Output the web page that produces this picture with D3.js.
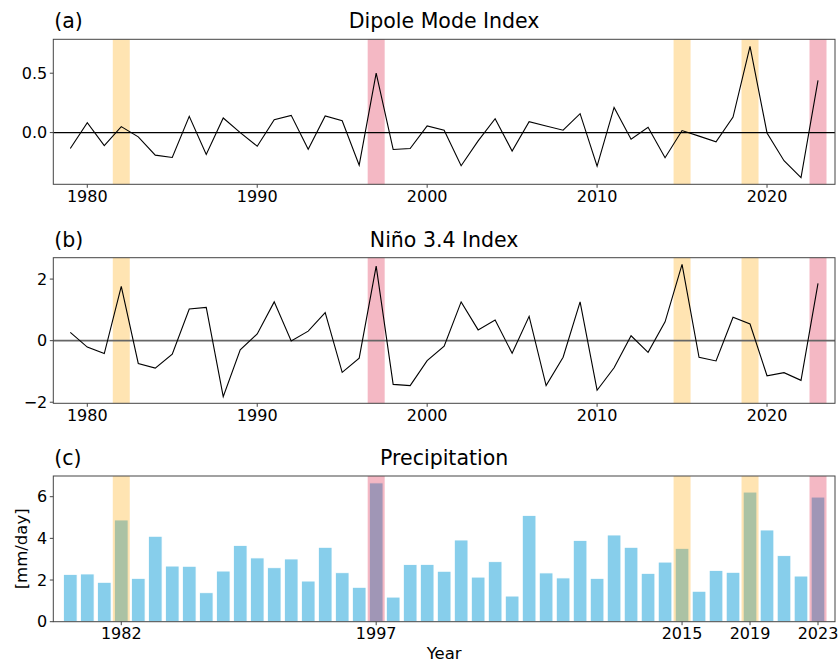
<!DOCTYPE html>
<html>
<head>
<meta charset="utf-8">
<script src="https://cdn.jsdelivr.net/npm/d3@7"></script>
<style>
  body { margin: 0; background: #fff; }
  #canvas { width: 839px; height: 663px; }
  text { font-family: "DejaVu Sans", sans-serif; fill: #000; }
</style>
</head>
<body>
<div id="canvas"></div>
<script>
let years = d3.range(1979, 2024);

let dmi = [
  -0.134, 0.084, -0.109, 0.05, -0.036, -0.19, -0.21, 0.137, -0.184, 0.123,
  0.0, -0.115, 0.109, 0.145, -0.14, 0.14, 0.1, -0.274, 0.5, -0.142,
  -0.134, 0.056, 0.02, -0.279, -0.07, 0.117, -0.156, 0.092, 0.055, 0.02,
  0.159, -0.282, 0.212, -0.056, 0.045, -0.212, 0.017, -0.03, -0.078, 0.131,
  0.726, -0.003, -0.237, -0.38, 0.439,
];

let nino34 = [
  0.27, -0.21, -0.42, 1.76, -0.74, -0.89, -0.44, 1.03, 1.08, -1.82,
  -0.3, 0.22, 1.26, -0.01, 0.31, 0.91, -1.03, -0.57, 2.42, -1.42,
  -1.46, -0.65, -0.18, 1.26, 0.35, 0.67, -0.41, 0.79, -1.46, -0.54,
  1.26, -1.61, -0.88, 0.16, -0.38, 0.61, 2.48, -0.54, -0.66, 0.76,
  0.54, -1.14, -1.04, -1.29, 1.86,
];

let precip = [
  2.27, 2.29, 1.89, 4.88, 2.08, 4.1, 2.67, 2.66, 1.39, 2.43,
  3.66, 3.06, 2.59, 3.01, 1.95, 3.57, 2.35, 1.65, 6.66, 1.18,
  2.74, 2.75, 2.42, 3.92, 2.14, 2.88, 1.23, 5.1, 2.34, 2.1,
  3.9, 2.08, 4.16, 3.57, 2.32, 2.86, 3.52, 1.46, 2.46, 2.37,
  6.22, 4.4, 3.17, 2.19, 5.98,
];

let orangeYears = [1982, 2015, 2019];
let pinkYears = [1997, 2023];

let lineTicks = [1980, 1990, 2000, 2010, 2020];
let barTicks = [1982, 1997, 2015, 2019, 2023];

let svg = d3
  .select("#canvas")
  .append("svg")
  .attr("width", 839)
  .attr("height", 663);

let left = 53.3,
  right = 835;

let x = d3.scaleLinear().domain([1978, 2024]).range([left, right]);

let panels = [
  { tag: "(a)", title: "Dipole Mode Index", top: 39.3, bottom: 184.3, domain: [-0.4355, 0.7855], yticks: [0, 0.5], fmt: d3.format(".1f") },
  { tag: "(b)", title: "Niño 3.4 Index", top: 257.7, bottom: 403.3, domain: [-2.035, 2.695], yticks: [-2, 0, 2], fmt: (d) => (d < 0 ? "\u2212" + Math.abs(d) : "" + d) },
  { tag: "(c)", title: "Precipitation", top: 476, bottom: 621.7, domain: [0, 6.993], yticks: [0, 2, 4, 6], fmt: (d) => "" + d },
];

let drawSpans = (g, y) => {
  let spans = orangeYears
    .map((yr) => ({ yr: yr, color: "orange" }))
    .concat(pinkYears.map((yr) => ({ yr: yr, color: "crimson" })));
  g.selectAll(".span")
    .data(spans)
    .join("rect")
    .attr("class", "span")
    .attr("x", (d) => x(d.yr - 0.5))
    .attr("width", (d) => x(d.yr + 0.5) - x(d.yr - 0.5))
    .attr("y", y.range()[1])
    .attr("height", y.range()[0] - y.range()[1])
    .attr("fill", (d) => d.color)
    .attr("fill-opacity", 0.3);
};

let drawAxes = (p, y, xticks) => {
  let g = svg.append("g");
  // frame
  g.append("rect")
    .attr("x", left)
    .attr("y", p.top)
    .attr("width", right - left)
    .attr("height", p.bottom - p.top)
    .attr("fill", "none")
    .attr("stroke", "#444")
    .attr("stroke-width", 1);

  let xa = g.selectAll(".xt").data(xticks).join("g").attr("class", "xt");
  xa.append("line")
    .attr("x1", (d) => x(d))
    .attr("x2", (d) => x(d))
    .attr("y1", p.bottom)
    .attr("y2", p.bottom + 3.5)
    .attr("stroke", "#444");
  xa.append("text")
    .attr("x", (d) => x(d))
    .attr("y", p.bottom + 17.5)
    .attr("text-anchor", "middle")
    .style("font-size", "16px")
    .text((d) => d);

  let ya = g.selectAll(".yt").data(p.yticks).join("g").attr("class", "yt");
  ya.append("line")
    .attr("x1", left - 3.5)
    .attr("x2", left)
    .attr("y1", (d) => y(d))
    .attr("y2", (d) => y(d))
    .attr("stroke", "#444");
  ya.append("text")
    .attr("x", left - 6)
    .attr("y", (d) => y(d))
    .attr("dy", "0.36em")
    .attr("text-anchor", "end")
    .style("font-size", "16px")
    .text((d) => p.fmt(d));

  svg.append("text")
    .attr("x", left + 1)
    .attr("y", p.top - 11)
    .style("font-size", "20.5px")
    .text(p.tag);
  svg.append("text")
    .attr("x", (left + right) / 2)
    .attr("y", p.top - 11)
    .attr("text-anchor", "middle")
    .style("font-size", "20.5px")
    .text(p.title);
};

let line = (y) =>
  d3
    .line()
    .x((d, i) => x(years[i]))
    .y((d) => y(d));

// (a) and (b): index lines
[dmi, nino34].forEach((series, k) => {
  let p = panels[k];
  let y = d3.scaleLinear().domain(p.domain).range([p.bottom, p.top]);
  let g = svg.append("g");
  drawSpans(g, y);
  g.append("line")
    .attr("x1", left)
    .attr("x2", right)
    .attr("y1", y(0))
    .attr("y2", y(0))
    .attr("stroke", k == 0 ? "#000" : "#666")
    .attr("stroke-width", k == 0 ? 1.2 : 1.8);
  g.append("path")
    .datum(series)
    .attr("d", line(y))
    .attr("fill", "none")
    .attr("stroke", "#000")
    .attr("stroke-width", 1.1);
  drawAxes(p, y, lineTicks);
});

// (c): precipitation bars
let pc = panels[2];
let yc = d3.scaleLinear().domain(pc.domain).range([pc.bottom, pc.top]);
let gc = svg.append("g");
gc.selectAll(".bar")
  .data(precip)
  .join("rect")
  .attr("class", "bar")
  .attr("x", (d, i) => x(years[i] - 0.4))
  .attr("width", (d, i) => x(years[i] + 0.4) - x(years[i] - 0.4))
  .attr("y", (d) => yc(d))
  .attr("height", (d) => yc(0) - yc(d))
  .attr("fill", "skyblue")
  .attr("stroke", "#fff")
  .attr("stroke-width", 0.8);
drawSpans(gc, yc);
drawAxes(pc, yc, barTicks);

svg.append("text")
  .attr("transform", `translate(27,${(pc.top + pc.bottom) / 2}) rotate(-90)`)
  .attr("text-anchor", "middle")
  .style("font-size", "16.5px")
  .text("[mm/day]");

svg.append("text")
  .attr("x", (left + right) / 2)
  .attr("y", 659)
  .attr("text-anchor", "middle")
  .style("font-size", "16.5px")
  .text("Year");
</script>
</body>
</html>
